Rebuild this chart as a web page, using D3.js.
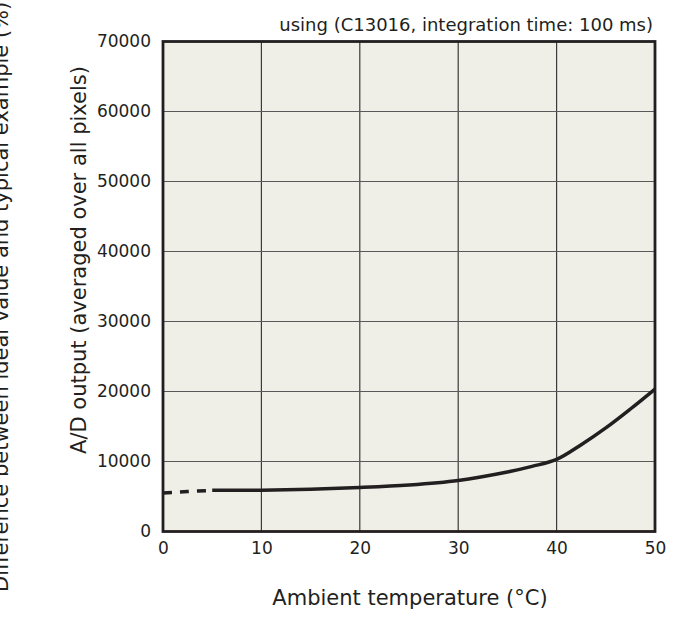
<!DOCTYPE html>
<html><head><meta charset="utf-8">
<script src="https://cdn.jsdelivr.net/npm/d3@7"></script>
<style>
html,body{margin:0;padding:0;background:#fff;}
text{font-family:"DejaVu Sans",Verdana,sans-serif;fill:#231f20;}
</style></head>
<body>
<svg id="chart" width="689" height="628"></svg>
<script>
const xTicks = [0, 10, 20, 30, 40, 50];
const yTicks = [0, 10000, 20000, 30000, 40000, 50000, 60000, 70000];
const dashedTemp = [0, 2.5, 5];
const dashedOutput = [5500, 5700, 5880];
const solidTemp = [5, 10, 15, 20, 25, 30, 35, 37.5, 40, 42.5, 45, 47.5, 50];
const solidOutput = [5880, 5900, 6050, 6290, 6650, 7290, 8500, 9300, 10300, 12400, 14800, 17500, 20350];
const titleText = "using (C13016, integration time: 100 ms)";
const xLabel = "Ambient temperature (°C)";
const yLabel = "A/D output (averaged over all pixels)";
const y2Label = "Difference between ideal value and typical example (%)";

const svg = d3.select("#chart");
const L = 163, R = 655, T = 41.5, B = 531.5;
const x = d3.scaleLinear().domain([0, 50]).range([L, R]);
const y = d3.scaleLinear().domain([0, 70000]).range([B, T]);

svg.append("rect").attr("x", L).attr("y", T).attr("width", R - L).attr("height", B - T)
  .attr("fill", "#f0efe7");

const g = svg.append("g");
g.selectAll(".vg").data(xTicks.slice(1, -1)).join("line")
  .attr("x1", d => x(d)).attr("x2", d => x(d)).attr("y1", T).attr("y2", B)
  .attr("stroke", "#3c3a3a").attr("stroke-width", 1.2);
g.selectAll(".hg").data(yTicks.slice(1, -1)).join("line")
  .attr("x1", L).attr("x2", R).attr("y1", d => y(d)).attr("y2", d => y(d))
  .attr("stroke", "#5a5858").attr("stroke-width", 1.2);

const line = d3.line().x(d => x(d[0])).y(d => y(d[1])).curve(d3.curveCatmullRom.alpha(0.5));
const dashed = dashedTemp.map((t, i) => [t, dashedOutput[i]]);
const solid = solidTemp.map((t, i) => [t, solidOutput[i]]);
svg.append("path").attr("d", line(dashed)).attr("fill", "none")
  .attr("stroke", "#231f20").attr("stroke-width", 3.5).attr("stroke-dasharray", "9,8");
svg.append("path").attr("d", line(solid)).attr("fill", "none")
  .attr("stroke", "#231f20").attr("stroke-width", 3.5);

svg.append("rect").attr("x", L).attr("y", T).attr("width", R - L).attr("height", B - T)
  .attr("fill", "none").attr("stroke", "#231f20").attr("stroke-width", 2.8);

const xAxis = svg.append("g").attr("transform", `translate(0,${B})`)
  .call(d3.axisBottom(x).tickValues(xTicks).tickSize(0).tickPadding(10).tickFormat(d3.format("d")));
const yAxis = svg.append("g").attr("transform", `translate(${L},0)`)
  .call(d3.axisLeft(y).tickValues(yTicks).tickSize(0).tickPadding(12).tickFormat(d3.format("d")));
[xAxis, yAxis].forEach(a => {
  a.select(".domain").remove();
  a.selectAll("text").attr("font-family", "DejaVu Sans, Verdana, sans-serif")
    .attr("font-size", 17).attr("fill", "#231f20");
});

svg.append("text").attr("x", 653).attr("y", 31).attr("text-anchor", "end")
  .attr("font-size", 18).text(titleText);
svg.append("text").attr("x", 410).attr("y", 605).attr("text-anchor", "middle")
  .attr("font-size", 21).text(xLabel);
svg.append("text").attr("transform", "translate(86,260) rotate(-90)")
  .attr("text-anchor", "middle").attr("font-size", 21).text(yLabel);
svg.append("text").attr("transform", "translate(8,592) rotate(-90)")
  .attr("text-anchor", "start").attr("font-size", 21).text(y2Label);
</script>
</body></html>
